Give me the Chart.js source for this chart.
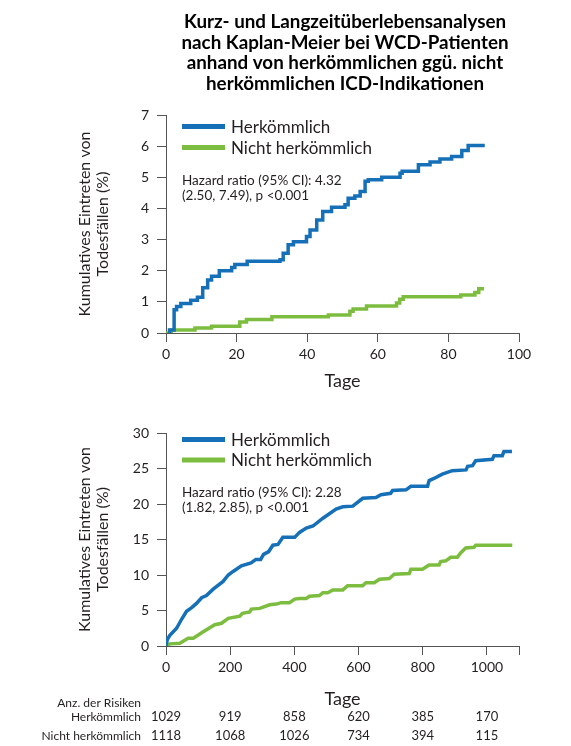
<!DOCTYPE html>
<html>
<head>
<meta charset="utf-8">
<title>Kaplan-Meier WCD</title>
<script src="https://cdn.jsdelivr.net/npm/chart.js@4.4.1/dist/chart.umd.min.js"></script>
<style>
  body { margin: 0; background: #fff; }
  #top { position: absolute; left: 0; top: 0; width: 571px; height: 395px; }
  #bottom { position: absolute; left: 0; top: 395px; width: 571px; height: 351px; }
</style>
</head>
<body>
<div id="top"><canvas id="chartShort"></canvas></div>
<div id="bottom"><canvas id="chartLong"></canvas></div>
<script>
// ---- data ----
var titleLines = [
  'Kurz- und Langzeitüberlebensanalysen',
  'nach Kaplan-Meier bei WCD-Patienten',
  'anhand von herkömmlichen ggü. nicht',
  'herkömmlichen ICD-Indikationen'
];
var seriesNames = ['Herkömmlich', 'Nicht herkömmlich'];
var yTitle = ['Kumulatives Eintreten von', 'Todesfällen (%)'];
var xTitle = 'Tage';

// short term (90 days)
var shortDaysHerk = [0.5, 1.0, 2.3, 3.0, 4.2, 7.0, 8.9, 10.4, 11.8, 12.9, 15.1, 18.6, 19.5, 23.0, 32.3, 33.2, 34.6, 36.1, 39.8, 40.8, 42.7, 44.4, 46.9, 50.7, 51.6, 53.5, 55.0, 56.4, 57.3, 61.1, 66.3, 66.9, 71.5, 74.8, 77.6, 80.9, 83.8, 85.6, 90.3];
var shortHerk     = [0, 0.1, 0.75, 0.85, 0.95, 1.05, 1.15, 1.45, 1.7, 1.82, 2.0, 2.1, 2.2, 2.3, 2.35, 2.56, 2.83, 2.93, 3.1, 3.31, 3.63, 3.9, 4.04, 4.12, 4.33, 4.4, 4.54, 4.87, 4.92, 5.0, 5.13, 5.19, 5.4, 5.49, 5.59, 5.67, 5.86, 6.02, 6.02];
var shortDaysNicht = [0, 1.5, 8.2, 12.9, 20.9, 22.8, 30.0, 46.0, 52.1, 53.0, 56.8, 65.3, 66.2, 67.2, 83.5, 87.5, 88.6, 90.1];
var shortNicht     = [0, 0.1, 0.16, 0.22, 0.35, 0.43, 0.52, 0.58, 0.7, 0.77, 0.87, 0.96, 1.08, 1.16, 1.22, 1.3, 1.42, 1.42];
var shortHazard = ['Hazard ratio (95% CI): 4.32', '(2.50, 7.49), p <0.001'];

// long term
var longDaysHerk = [0, 4, 12, 33, 49, 64, 80, 95, 111, 126, 147, 178, 194, 209, 235, 265, 280, 295, 304, 320, 333, 349, 364, 401, 416, 437, 458, 489, 530, 551, 582, 613, 654, 670, 700, 706, 748, 763, 815, 820, 835, 861, 892, 935, 940, 955, 965, 1017, 1022, 1048, 1053, 1078];
var longHerk     = [0, 0.9, 1.5, 2.5, 3.8, 4.9, 5.4, 6.0, 6.8, 7.1, 8.0, 9.1, 10.0, 10.5, 11.3, 11.7, 12.2, 12.2, 12.9, 13.3, 14.2, 14.3, 15.3, 15.3, 16.0, 16.6, 16.9, 18.0, 19.3, 19.6, 19.7, 20.8, 20.9, 21.3, 21.5, 21.9, 22.0, 22.5, 22.5, 23.3, 23.6, 24.2, 24.7, 24.8, 25.3, 25.4, 26.1, 26.3, 26.8, 26.8, 27.4, 27.4];
var longDaysNicht = [0, 12, 43, 69, 85, 116, 152, 173, 194, 230, 238, 261, 266, 292, 323, 344, 359, 385, 401, 416, 437, 447, 478, 489, 504, 520, 551, 566, 613, 623, 649, 665, 696, 711, 758, 763, 799, 820, 851, 856, 872, 887, 908, 918, 934, 960, 965, 1079];
var longNicht     = [0, 0.3, 0.4, 1.1, 1.1, 2.0, 3.0, 3.2, 3.9, 4.2, 4.6, 4.8, 5.2, 5.3, 5.8, 5.9, 6.1, 6.1, 6.6, 6.7, 6.7, 7.0, 7.1, 7.5, 7.5, 7.9, 7.9, 8.5, 8.5, 8.9, 8.9, 9.4, 9.5, 10.1, 10.2, 10.8, 10.8, 11.4, 11.4, 11.9, 12.0, 12.5, 12.5, 13.1, 13.8, 13.9, 14.2, 14.2];
var longHazard = ['Hazard ratio (95% CI): 2.28', '(1.82, 2.85), p <0.001'];
var longXTicks = [0, 200, 400, 600, 800, 1000, 1100];

// numbers at risk
var riskTitle = 'Anz. der Risiken';
var riskDays = [0, 200, 400, 600, 800, 1000];
var riskHerk = [1029, 919, 858, 620, 385, 170];
var riskNicht = [1118, 1068, 1026, 734, 394, 115];

// ---- styling ----
var BLUE = '#1670b7';
var GREEN = '#7cbd3f';
var AXIS = '#555555';
var TEXT = '#231f20';
var FONT = 'Lato, "Open Sans", sans-serif';

function pts(xs, ys) {
  return xs.map(function (x, i) { return { x: x, y: ys[i] }; });
}

// legend + hazard ratio text drawn inside the plot area
var insidePlugin = {
  id: 'inside',
  afterDraw: function (chart, args, opts) {
    var ctx = chart.ctx;
    var left = chart.chartArea.left + 16;
    ctx.save();
    chart.data.datasets.forEach(function (ds, i) {
      var y = opts.legendY[i];
      ctx.strokeStyle = ds.borderColor;
      ctx.lineWidth = 5;
      ctx.beginPath();
      ctx.moveTo(left, y);
      ctx.lineTo(left + 43, y);
      ctx.stroke();
      ctx.fillStyle = TEXT;
      ctx.font = '17px ' + FONT;
      ctx.textBaseline = 'middle';
      ctx.textAlign = 'left';
      ctx.fillText(ds.label, left + 49, y + 1);
    });
    ctx.font = '13.5px ' + FONT;
    opts.hazard.forEach(function (line, i) {
      ctx.fillText(line, left, opts.hazardY + i * 15);
    });
    ctx.restore();
  }
};

var titlePlugin = {
  id: 'pageTitle',
  afterDraw: function (chart, args, opts) {
    if (!opts.lines) return;
    var ctx = chart.ctx;
    ctx.save();
    ctx.fillStyle = '#000';
    ctx.font = 'bold 18.8px ' + FONT;
    ctx.textAlign = 'center';
    ctx.textBaseline = 'middle';
    opts.lines.forEach(function (line, i) {
      ctx.fillText(line, 345, 22 + i * 20.6);
    });
    ctx.restore();
  }
};

var riskPlugin = {
  id: 'riskTable',
  afterDraw: function (chart, args, opts) {
    if (!opts.show) return;
    var ctx = chart.ctx;
    var xs = chart.scales.x;
    ctx.save();
    ctx.fillStyle = TEXT;
    ctx.font = '12px ' + FONT;
    ctx.textBaseline = 'middle';
    ctx.textAlign = 'right';
    ctx.fillText(riskTitle, 141, 308);
    ctx.fillText(seriesNames[0], 141, 322);
    ctx.fillText(seriesNames[1], 141, 341);
    ctx.textAlign = 'center';
    ctx.font = '13px ' + FONT;
    riskDays.forEach(function (d, i) {
      var x = xs.getPixelForValue(d);
      ctx.fillText(String(riskHerk[i]), x, 322);
      ctx.fillText(String(riskNicht[i]), x, 341);
    });
    ctx.restore();
  }
};

function makeChart(id, cfg) {
  return new Chart(document.getElementById(id), {
    type: 'line',
    data: {
      datasets: [
        { label: seriesNames[0], data: cfg.herk, borderColor: BLUE, backgroundColor: BLUE,
          borderWidth: 3.5, pointRadius: 0, stepped: cfg.stepped, fill: false },
        { label: seriesNames[1], data: cfg.nicht, borderColor: GREEN, backgroundColor: GREEN,
          borderWidth: 3.5, pointRadius: 0, stepped: cfg.stepped, fill: false }
      ]
    },
    options: {
      responsive: true,
      maintainAspectRatio: false,
      animation: false,
      layout: { padding: { top: cfg.top, right: 52, left: 0, bottom: 0 } },
      plugins: {
        legend: { display: false },
        tooltip: { enabled: false },
        inside: { legendY: cfg.legendY, hazard: cfg.hazard, hazardY: cfg.hazardY },
        pageTitle: { lines: cfg.title },
        riskTable: { show: cfg.risk }
      },
      scales: {
        x: {
          type: 'linear',
          min: 0,
          max: cfg.xMax,
          afterBuildTicks: cfg.xTicks ? function (s) {
            s.ticks = cfg.xTicks.map(function (v) { return { value: v }; });
          } : undefined,
          afterFit: function (s) { s.height = cfg.xHeight; },
          ticks: {
            stepSize: cfg.xStep,
            color: TEXT,
            font: { family: FONT, size: 14 },
            padding: 4,
            maxRotation: 0,
            autoSkip: false,
            callback: function (v) { return v > cfg.xLabelMax ? '' : v; }
          },
          grid: { drawOnChartArea: false, drawTicks: true, tickLength: 9, color: AXIS },
          border: { display: true, color: AXIS, width: 1 },
          title: {
            display: true, text: xTitle, color: TEXT,
            font: { family: FONT, size: 18 },
            padding: { top: 0, bottom: cfg.xTitlePad }
          }
        },
        y: {
          min: 0,
          max: cfg.yMax,
          afterFit: function (s) { s.width = 166; },
          ticks: {
            stepSize: cfg.yStep,
            color: TEXT,
            font: { family: FONT, size: 14 },
            padding: 8
          },
          grid: { drawOnChartArea: false, drawTicks: true, tickLength: 9, color: AXIS },
          border: { display: true, color: AXIS, width: 1 },
          title: {
            display: true, text: yTitle, color: TEXT,
            font: { family: FONT, size: 16, lineHeight: '18px' },
            padding: { top: 76, bottom: 0 }
          }
        }
      }
    },
    plugins: [insidePlugin, titlePlugin, riskPlugin]
  });
}

makeChart('chartShort', {
  herk: pts(shortDaysHerk, shortHerk),
  nicht: pts(shortDaysNicht, shortNicht),
  stepped: 'before',
  top: 115, xMax: 100, xStep: 20, xLabelMax: 100, xHeight: 62, xTitlePad: 3,
  yMax: 7, yStep: 1,
  legendY: [126.5, 147.5], hazard: shortHazard, hazardY: 181,
  title: titleLines, risk: false
});

makeChart('chartLong', {
  herk: pts(longDaysHerk, longHerk),
  nicht: pts(longDaysNicht, longNicht),
  stepped: false,
  top: 38, xMax: 1100, xStep: 200, xTicks: longXTicks, xLabelMax: 1000, xHeight: 100, xTitlePad: 36,
  yMax: 30, yStep: 5,
  legendY: [44.5, 65], hazard: longHazard, hazardY: 98,
  title: null, risk: true
});
</script>
</body>
</html>
